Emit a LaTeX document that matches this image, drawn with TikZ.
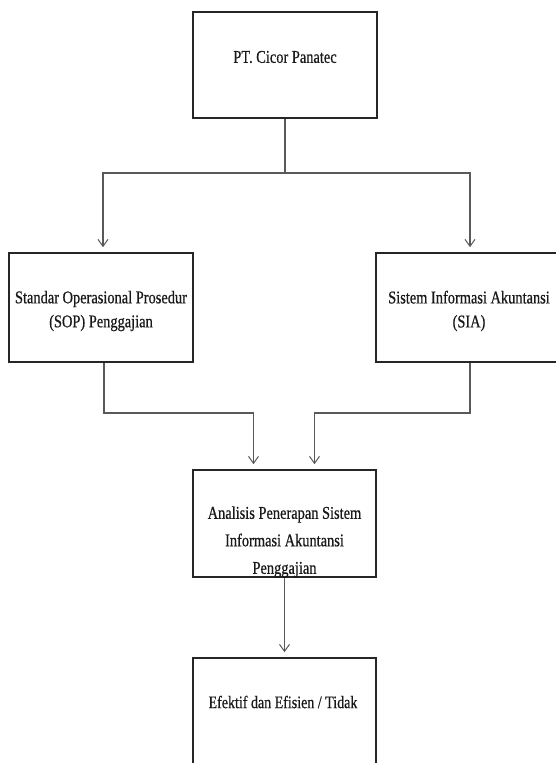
\documentclass[tikz,border=0pt]{standalone}
\usepackage{fontspec}
\setmainfont[FakeStretch=0.8,FakeBold=0.6]{Liberation Serif}
\usetikzlibrary{arrows.meta}
\begin{document}
\begin{tikzpicture}[x=1pt,y=-1pt,
  box/.style={draw=black!85,line width=1.6pt,inner sep=0pt,fill=white},
  lbl/.style={inner sep=0pt,align=center,font=\fontsize{18}{24}\selectfont,text=black!90},
  conn/.style={draw=black!65,line width=1.3pt},
  arr/.style={conn,-{Straight Barb[length=7pt,width=10pt,line width=1pt]},shorten >=5pt}]
\useasboundingbox (0,0) rectangle (556,763);
\begin{scope}
\clip (0,0) rectangle (556,763);
\node[box,minimum width=184,minimum height=106] (top) at (285,65) {};
\node[box,minimum width=184,minimum height=109] (sop) at (101,307.5) {};
\node[box,minimum width=186,minimum height=109] (sia) at (469,307.5) {};
\node[box,minimum width=183,minimum height=107] (mid) at (284.5,523.5) {};
\node[box,minimum width=183,minimum height=120] (res) at (284.5,718) {};

\node[lbl] (ttop) at (285,57) {PT. Cicor Panatec};
\node[lbl] (tsop) at (101,311) {Standar Operasional Prosedur\\(SOP) Penggajian};
\node[lbl] (tsia) at (469,311) {Sistem Informasi Akuntansi\\(SIA)};
\node[lbl,font=\fontsize{18}{27.5}\selectfont] (tmid) at (284.5,542) {Analisis Penerapan Sistem\\Informasi Akuntansi\\Penggajian};
\node[lbl,font=\fontsize{17.5}{24}\selectfont] (tres) at (283,702) {Efektif dan Efisien / Tidak};

\coordinate (split) at (285,173);
\draw[conn] (top.south) -- (split);
\draw[arr] (split) -| ([xshift=2]sop.north);
\draw[arr] (split) -| ([xshift=1]sia.north);

\coordinate (jl) at (104,413);
\coordinate (jr) at (470,413);
\draw[arr] ([xshift=3]sop.south) -- (jl) -| ([xshift=-31]mid.north);
\draw[arr] ([xshift=1]sia.south) -- (jr) -| ([xshift=30]mid.north);
\draw[arr] (mid.south) -- (res.north);
\end{scope}
\end{tikzpicture}
\end{document}
